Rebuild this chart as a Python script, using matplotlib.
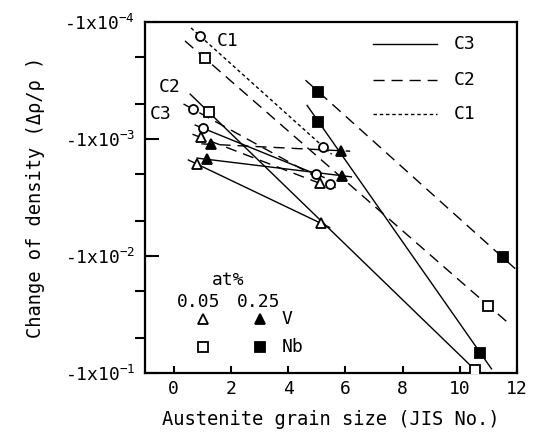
"""Density change vs austenite grain size for V and Nb steels."""
import matplotlib
matplotlib.use('Agg')
import matplotlib.pyplot as plt
import numpy as np

plt.rcParams['font.family'] = ['DejaVu Sans Mono']
plt.rcParams['mathtext.default'] = 'regular'

# Grain size (JIS No.) and |change of density| for each pair of points
circle_c1_x = [0.91, 5.22]
circle_c1_y = [1.31e-4, 1.16e-3]
circle_c2_x = [0.68, 5.45]
circle_c2_y = [5.57e-4, 2.44e-3]
circle_c3_x = [1.03, 4.98]
circle_c3_y = [8.1e-4, 2.0e-3]

v005_c2_x = [0.95, 5.12]
v005_c2_y = [9.7e-4, 2.4e-3]
v005_c3_x = [0.82, 5.15]
v005_c3_y = [1.64e-3, 5.26e-3]
v025_c2_x = [1.29, 5.85]
v025_c2_y = [1.11e-3, 1.26e-3]
v025_c3_x = [1.15, 5.88]
v025_c3_y = [1.49e-3, 2.06e-3]

nb005_c2_x = [1.09, 11.0]
nb005_c2_y = [2.04e-4, 2.66e-2]
nb005_c3_x = [1.23, 10.53]
nb005_c3_y = [5.9e-4, 9.4e-2]
nb025_c2_x = [5.06, 11.5]
nb025_c2_y = [3.95e-4, 1.03e-2]
nb025_c3_x = [5.06, 10.71]
nb025_c3_y = [7.1e-4, 6.7e-2]

x_ticks = [0, 2, 4, 6, 8, 10, 12]
y_ticks = [1e-4, 1e-3, 1e-2, 1e-1]
y_tick_labels = ['-1x10$^{-4}$', '-1x10$^{-3}$', '-1x10$^{-2}$', '-1x10$^{-1}$']

# Line styles for the processing conditions
STYLES = {
    'C3': dict(linestyle='-'),
    'C2': dict(linestyle=(0, (8, 5))),
    'C1': dict(linestyle=(0, (2.5, 2))),
}

# Marker per steel
MARKERS = {
    'circle': dict(marker='o', markerfacecolor='white'),
    'v005': dict(marker='^', markerfacecolor='white'),
    'v025': dict(marker='^', markerfacecolor='black'),
    'nb005': dict(marker='s', markerfacecolor='white'),
    'nb025': dict(marker='s', markerfacecolor='black'),
}


def draw_pair(ax, xs, ys, cond, kind, ext=0.07):
    """Line through two points (slightly extended) plus its markers."""
    lx = np.log10(ys)
    dx = xs[1] - xs[0]
    dy = lx[1] - lx[0]
    ex = [xs[0] - ext * dx, xs[1] + ext * dx]
    ey = [10 ** (lx[0] - ext * dy), 10 ** (lx[1] + ext * dy)]
    ax.plot(ex, ey, color='black', lw=1.0, zorder=2, **STYLES[cond])
    ax.plot(xs, ys, linestyle='none', markersize=6.5, markeredgecolor='black',
            markeredgewidth=1.3, zorder=3, **MARKERS[kind])


fig = plt.figure(figsize=(5.42, 4.46), dpi=100)
ax = fig.add_axes([0.2675, 0.1637, 0.6865, 0.787])

draw_pair(ax, circle_c1_x, circle_c1_y, 'C1', 'circle')
draw_pair(ax, circle_c2_x, circle_c2_y, 'C2', 'circle')
draw_pair(ax, circle_c3_x, circle_c3_y, 'C3', 'circle')
draw_pair(ax, v005_c2_x, v005_c2_y, 'C2', 'v005')
draw_pair(ax, v005_c3_x, v005_c3_y, 'C3', 'v005')
draw_pair(ax, v025_c2_x, v025_c2_y, 'C2', 'v025')
draw_pair(ax, v025_c3_x, v025_c3_y, 'C3', 'v025')
draw_pair(ax, nb005_c2_x, nb005_c2_y, 'C2', 'nb005')
draw_pair(ax, nb005_c3_x, nb005_c3_y, 'C3', 'nb005')
draw_pair(ax, nb025_c2_x, nb025_c2_y, 'C2', 'nb025')
draw_pair(ax, nb025_c3_x, nb025_c3_y, 'C3', 'nb025')

# Axes setup
ax.set_yscale('log')
ax.set_xlim(-1, 12)
ax.set_ylim(1e-1, 1e-4)
ax.set_xticks(x_ticks)
ax.set_yticks(y_ticks)
ax.set_yticklabels(y_tick_labels)
ax.yaxis.set_minor_locator(matplotlib.ticker.LogLocator(base=10, subs=[2, 5]))
ax.yaxis.set_minor_formatter(matplotlib.ticker.NullFormatter())
ax.tick_params(axis='both', direction='in', labelsize=13, width=1.5)
ax.tick_params(axis='y', which='major', length=10, pad=7)
ax.tick_params(axis='y', which='minor', length=7, width=1.5)
ax.tick_params(axis='x', which='major', length=5, pad=5)
for sp in ax.spines.values():
    sp.set_linewidth(1.6)

ax.set_xlabel('Austenite grain size (JIS No.)', fontsize=13.5, labelpad=9)
ax.set_ylabel('Change of density (Δρ/ρ )', fontsize=13.5, labelpad=14)

# Curve labels
ax.text(1.9, 1.45e-4, 'C1', fontsize=13, ha='center', va='center')
ax.text(-0.14, 3.6e-4, 'C2', fontsize=13, ha='center', va='center')
ax.text(-0.46, 6.1e-4, 'C3', fontsize=13, ha='center', va='center')

# Line-style key (top right)
for yy, cond in zip([0.937, 0.835, 0.738], ['C3', 'C2', 'C1']):
    ax.plot([0.613, 0.785], [yy, yy], transform=ax.transAxes, color='black',
            lw=1.0, **STYLES[cond])
    ax.text(0.83, yy, cond, transform=ax.transAxes, fontsize=13,
            ha='left', va='center')

# Marker key (bottom left)
ax.text(0.223, 0.265, 'at%', transform=ax.transAxes, fontsize=13,
        ha='center', va='center')
ax.text(0.145, 0.202, '0.05', transform=ax.transAxes, fontsize=13,
        ha='center', va='center')
ax.text(0.306, 0.202, '0.25', transform=ax.transAxes, fontsize=13,
        ha='center', va='center')
for kx, ky, kind in [(0.155, 0.153, 'v005'), (0.309, 0.153, 'v025'),
                     (0.155, 0.075, 'nb005'), (0.309, 0.075, 'nb025')]:
    ax.plot([kx], [ky], transform=ax.transAxes, linestyle='none',
            markersize=6.5, markeredgecolor='black', markeredgewidth=1.3,
            **MARKERS[kind])
ax.text(0.368, 0.153, 'V', transform=ax.transAxes, fontsize=13,
        ha='left', va='center')
ax.text(0.368, 0.075, 'Nb', transform=ax.transAxes, fontsize=13,
        ha='left', va='center')

fig.savefig('out.png', dpi=100)
